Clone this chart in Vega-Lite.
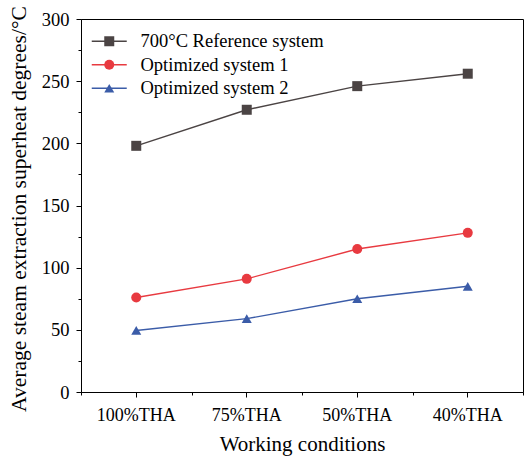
{
  "$schema": "https://vega.github.io/schema/vega-lite/v6.json",
  "width": 442,
  "height": 373,
  "autosize": {"type": "none"},
  "padding": {"left": 81, "top": 19, "right": 2, "bottom": 69},
  "background": "white",
  "config": {
    "view": {"stroke": "black", "strokeWidth": 1},
    "font": "Liberation Serif",
    "axis": {
      "grid": false,
      "domainColor": "black",
      "tickColor": "black",
      "labelColor": "black",
      "titleColor": "black",
      "titleFontWeight": "normal",
      "labelFont": "Liberation Serif",
      "titleFont": "Liberation Serif",
      "domainWidth": 1,
      "tickWidth": 1
    },
    "legend": {
      "labelFont": "Liberation Serif",
      "labelColor": "black",
      "labelLimit": 400
    }
  },
  "data": {
    "values": [
      {"condition": "100%THA", "series": "700°C Reference system", "value": 198},
      {"condition": "75%THA", "series": "700°C Reference system", "value": 227},
      {"condition": "50%THA", "series": "700°C Reference system", "value": 246},
      {"condition": "40%THA", "series": "700°C Reference system", "value": 256},
      {"condition": "100%THA", "series": "Optimized system 1", "value": 76},
      {"condition": "75%THA", "series": "Optimized system 1", "value": 91},
      {"condition": "50%THA", "series": "Optimized system 1", "value": 115},
      {"condition": "40%THA", "series": "Optimized system 1", "value": 128},
      {"condition": "100%THA", "series": "Optimized system 2", "value": 49.5},
      {"condition": "75%THA", "series": "Optimized system 2", "value": 59},
      {"condition": "50%THA", "series": "Optimized system 2", "value": 75},
      {"condition": "40%THA", "series": "Optimized system 2", "value": 85}
    ]
  },
  "layer": [
    {
      "mark": {"type": "line", "strokeWidth": 1.4},
      "encoding": {
        "x": {
          "field": "condition", "type": "nominal",
          "sort": ["100%THA", "75%THA", "50%THA", "40%THA"],
          "scale": {"type": "band", "paddingInner": 0, "paddingOuter": 0},
          "bandPosition": 0.5,
          "axis": {"orient": "bottom", "title": "Working conditions", "labelAngle": 0, "labelFontSize": 18, "titleFontSize": 21, "tickSize": 5, "labelPadding": 9, "titlePadding": 9.5}
        },
        "y": {
          "field": "value", "type": "quantitative",
          "scale": {"domain": [0, 300], "nice": false},
          "axis": {"orient": "left", "values": [0, 50, 100, 150, 200, 250, 300], "title": "Average steam extraction superheat degrees/°C", "labelFontSize": 18.5, "titleFontSize": 21.5, "titleY": 189.5, "tickSize": 5, "labelPadding": 7, "titlePadding": 11}
        },
        "stroke": {
          "field": "series", "type": "nominal",
          "scale": {"range": ["#4b4444", "#e83a40", "#3b5ca8"]},
          "legend": {"title": null, "orient": "none", "legendX": 19, "legendY": 13, "symbolType": "M-3.5,0H3.5", "symbolSize": 100, "symbolStrokeWidth": 1.4, "labelFontSize": 18.5, "labelOffset": 22, "rowPadding": 4.5}
        }
      }
    },
    {
      "mark": {"type": "point", "filled": true, "size": 100, "opacity": 1},
      "encoding": {
        "x": {
          "field": "condition", "type": "nominal",
          "sort": ["100%THA", "75%THA", "50%THA", "40%THA"],
          "bandPosition": 0.5,
          "axis": {"orient": "bottom", "tickBand": "extent", "labels": false, "domain": false, "tickSize": 3, "title": null}
        },
        "y": {
          "field": "value", "type": "quantitative",
          "axis": {"orient": "left", "values": [25, 75, 125, 175, 225, 275], "labels": false, "domain": false, "tickSize": 3, "title": null}
        },
        "fill": {
          "field": "series", "type": "nominal",
          "scale": {"domain": ["700°C Reference system", "Optimized system 1", "Optimized system 2"], "range": ["#4b4444", "#e83a40", "#3b5ca8"]},
          "legend": {"title": null, "orient": "none", "legendX": 19, "legendY": 13, "symbolSize": 100, "symbolStrokeWidth": 0, "labelFontSize": 18.5, "labelOffset": 22, "labelColor": "transparent", "rowPadding": 4.5}
        },
        "shape": {
          "field": "series", "type": "nominal",
          "scale": {"domain": ["700°C Reference system", "Optimized system 1", "Optimized system 2"], "range": ["square", "circle", "triangle-up"]},
          "legend": {"title": null, "orient": "none", "legendX": 19, "legendY": 13, "symbolSize": 100, "symbolStrokeWidth": 0, "labelFontSize": 18.5, "labelOffset": 22, "labelColor": "transparent", "rowPadding": 4.5}
        }
      }
    }
  ],
  "resolve": {"axis": {"x": "independent", "y": "independent"}}
}
